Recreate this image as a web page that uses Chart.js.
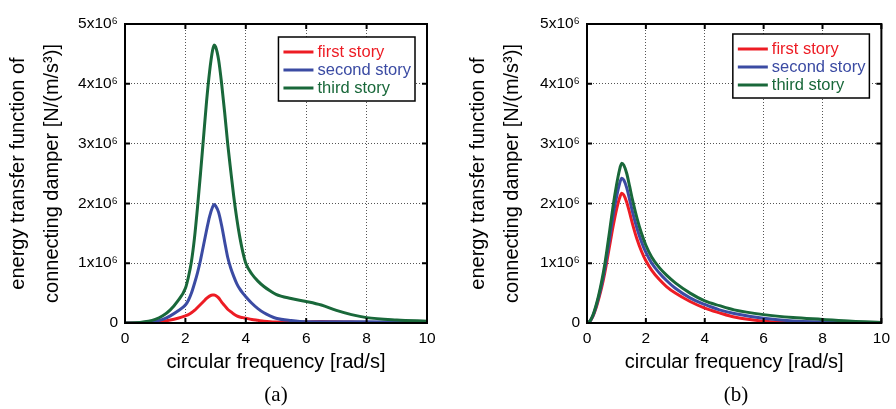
<!DOCTYPE html>
<html>
<head>
<meta charset="utf-8">
<script src="https://cdn.jsdelivr.net/npm/chart.js@4.4.0/dist/chart.umd.min.js"></script>
<style>
  body { margin: 0; background: #fff; width: 896px; height: 409px; overflow: hidden; position: relative; }
  .panel { position: absolute; top: 0; width: 448px; height: 409px; }
  .cap { position: absolute; top: 382px; font-family: "Liberation Serif", serif; font-size: 21px; transform: translateX(-50%); }
</style>
</head>
<body>
<div class="panel" style="left:0"><canvas id="chartA" width="448" height="409"></canvas></div>
<div class="panel" style="left:448px"><canvas id="chartB" width="448" height="409"></canvas></div>
<div class="cap" style="left:276px">(a)</div>
<div class="cap" style="left:736px">(b)</div>

<script>
// circular frequency [rad/s] and energy transfer values in units of 10^6 N/(m/s^3)

// panel (a)
const freqA   = [0, 0.5, 1, 1.25, 1.5, 1.75, 2, 2.1, 2.2, 2.3, 2.4, 2.5, 2.6, 2.7, 2.8, 2.9, 2.95, 3.0, 3.1, 3.2,
                 3.3, 3.4, 3.5, 3.6, 3.7, 3.8, 3.9, 4.0, 4.2, 4.4, 4.6, 4.8, 5.0, 5.5, 6.0, 6.5, 7.0, 7.5, 8.0, 9.0, 10];
const firstA  = [0, 0, 0.02, 0.03, 0.05, 0.08, 0.12, 0.14, 0.17, 0.21, 0.26, 0.31, 0.36, 0.41, 0.45, 0.47, 0.47, 0.46, 0.42, 0.35,
                 0.29, 0.23, 0.19, 0.15, 0.12, 0.1, 0.09, 0.08, 0.06, 0.045, 0.03, 0.02, 0.015, 0.01, 0.015, 0.025, 0.02, 0.015, 0.01, 0.005, 0];
const secondA = [0, 0.005, 0.03, 0.06, 0.12, 0.2, 0.3, 0.38, 0.5, 0.66, 0.84, 1.05, 1.3, 1.55, 1.78, 1.94, 1.98, 1.96, 1.85, 1.63,
                 1.36, 1.1, 0.92, 0.78, 0.66, 0.57, 0.5, 0.44, 0.33, 0.24, 0.17, 0.12, 0.08, 0.04, 0.02, 0.02, 0.02, 0.02, 0.02, 0.015, 0.01];
const thirdA  = [0, 0.01, 0.06, 0.12, 0.22, 0.37, 0.58, 0.77, 1.03, 1.42, 1.93, 2.5, 3.1, 3.7, 4.2, 4.56, 4.65, 4.62, 4.4, 4.0,
                 3.52, 3.0, 2.55, 2.12, 1.75, 1.44, 1.19, 1.0, 0.82, 0.7, 0.61, 0.54, 0.48, 0.41, 0.36, 0.3, 0.21, 0.14, 0.09, 0.05, 0.03];

// panel (b)
const freqB   = [0, 0.1, 0.2, 0.3, 0.4, 0.5, 0.6, 0.7, 0.8, 0.9, 1.0, 1.1, 1.18, 1.25, 1.35, 1.45, 1.55, 1.7, 1.85, 2.0,
                 2.2, 2.45, 2.7, 3.0, 3.5, 4, 4.5, 5, 6, 7, 8, 9, 10];
const firstB  = [0, 0.03, 0.11, 0.24, 0.41, 0.6, 0.83, 1.1, 1.38, 1.65, 1.89, 2.08, 2.17, 2.14, 2.02, 1.84, 1.65, 1.4, 1.2, 1.04,
                 0.88, 0.73, 0.61, 0.5, 0.36, 0.25, 0.17, 0.1, 0.03, 0.01, 0.005, 0, 0];
const secondB = [0, 0.03, 0.12, 0.26, 0.44, 0.65, 0.9, 1.2, 1.52, 1.84, 2.1, 2.32, 2.42, 2.39, 2.26, 2.06, 1.85, 1.58, 1.36, 1.18,
                 1.0, 0.84, 0.71, 0.58, 0.42, 0.31, 0.22, 0.16, 0.08, 0.035, 0.02, 0.01, 0.005];
const thirdB  = [0, 0.03, 0.13, 0.28, 0.47, 0.7, 0.97, 1.3, 1.65, 2.0, 2.3, 2.55, 2.67, 2.64, 2.5, 2.28, 2.05, 1.75, 1.5, 1.3,
                 1.1, 0.93, 0.8, 0.67, 0.5, 0.37, 0.29, 0.22, 0.14, 0.09, 0.06, 0.03, 0.01];

const seriesNames  = ['first story', 'second story', 'third story'];
const seriesColors = ['#ed1c24', '#3b4ba3', '#19683a'];
const xTicks = [0, 2, 4, 6, 8, 10];
const yTicks = [0, 1, 2, 3, 4, 5];
const yTickLabels = ['0', '1x10\u2076', '2x10\u2076', '3x10\u2076', '4x10\u2076', '5x10\u2076'];

const FONT = '"Liberation Sans", Arial, sans-serif';

function points(xs, ys) {
  return xs.map((x, i) => ({ x: x, y: ys[i] }));
}

// black box round the axes, with ticks pointing inward on all four sides
const boxPlugin = {
  id: 'box',
  afterDatasetsDraw(chart) {
    const { ctx, chartArea: a, scales: { x, y } } = chart;
    ctx.save();
    ctx.strokeStyle = '#000';
    ctx.lineWidth = 2;
    ctx.strokeRect(a.left, a.top, a.right - a.left, a.bottom - a.top);
    ctx.beginPath();
    xTicks.forEach(v => {
      const px = x.getPixelForValue(v);
      ctx.moveTo(px, a.bottom); ctx.lineTo(px, a.bottom - 5);
      ctx.moveTo(px, a.top); ctx.lineTo(px, a.top + 5);
    });
    yTicks.forEach(v => {
      const py = y.getPixelForValue(v);
      ctx.moveTo(a.left, py); ctx.lineTo(a.left + 5, py);
      ctx.moveTo(a.right, py); ctx.lineTo(a.right - 5, py);
    });
    ctx.stroke();
    ctx.restore();
  }
};

// boxed legend in the upper right, text coloured like the lines
const legendPlugin = {
  id: 'boxLegend',
  afterDraw(chart) {
    const { ctx, chartArea: a } = chart;
    const sets = chart.data.datasets;
    ctx.save();
    ctx.font = '16.5px ' + FONT;
    const textW = Math.max(...sets.map(d => ctx.measureText(d.label).width));
    const w = 39 + textW + 4;
    const h = 64;
    const left = a.right - 12 - w;
    const top = a.top + chart.options.legendTop;
    ctx.fillStyle = '#fff';
    ctx.fillRect(left, top, w, h);
    ctx.strokeStyle = '#000';
    ctx.lineWidth = 1.5;
    ctx.strokeRect(left, top, w, h);
    sets.forEach((d, i) => {
      const yy = top + 15 + i * 18;
      ctx.strokeStyle = d.borderColor;
      ctx.lineWidth = 3;
      ctx.beginPath();
      ctx.moveTo(left + 5, yy);
      ctx.lineTo(left + 35, yy);
      ctx.stroke();
      ctx.fillStyle = d.borderColor;
      ctx.textBaseline = 'middle';
      ctx.fillText(d.label, left + 39, yy);
    });
    ctx.restore();
  }
};

function makeChart(id, freq, series, axisWidth, rightPad, titlePad, legendTop) {
  const datasets = series.map((vals, i) => ({
    label: seriesNames[i],
    data: points(freq, vals),
    borderColor: seriesColors[i],
    backgroundColor: seriesColors[i],
    borderWidth: 3,
    pointRadius: 0,
    cubicInterpolationMode: 'monotone',
    order: 3 - i
  }));

  return new Chart(document.getElementById(id), {
    type: 'line',
    data: { datasets: datasets },
    options: {
      responsive: false,
      animation: false,
      legendTop: legendTop,
      layout: { padding: { left: 0, right: rightPad, top: 24, bottom: 34 } },
      plugins: { legend: { display: false }, tooltip: { enabled: false } },
      scales: {
        x: {
          type: 'linear',
          min: 0, max: 10,
          afterFit: s => { s.height = 52; },
          afterBuildTicks: s => { s.ticks = xTicks.map(v => ({ value: v })); },
          grid: { color: '#555', lineWidth: 1, drawTicks: false },
          border: { display: false, dash: [1, 2] },
          ticks: { color: '#000', font: { family: FONT, size: 15.5 }, padding: 6, maxRotation: 0, autoSkip: false },
          title: { display: true, text: 'circular frequency [rad/s]', color: '#000',
                   font: { family: FONT, size: 20 }, padding: { top: 0, bottom: 1 } }
        },
        y: {
          type: 'linear',
          min: 0, max: 5,
          afterFit: s => { s.width = axisWidth; },
          afterBuildTicks: s => { s.ticks = yTicks.map(v => ({ value: v })); },
          grid: { color: '#555', lineWidth: 1, drawTicks: false },
          border: { display: false, dash: [1, 2] },
          ticks: { color: '#000', font: { family: FONT, size: 15.5 }, padding: 7, autoSkip: false,
                   callback: (v, i) => yTickLabels[i] },
          title: { display: true, text: ['energy transfer function of', 'connecting damper [N/(m/s\u00b3)]'],
                   color: '#000', font: { family: FONT, size: 20, lineHeight: 1.7 },
                   padding: { top: titlePad, bottom: 0 } }
        }
      }
    },
    plugins: [boxPlugin, legendPlugin]
  });
}

makeChart('chartA', freqA, [firstA, secondA, thirdA], 125, 21, 1, 13);
makeChart('chartB', freqB, [firstB, secondB, thirdB], 139, 10, 13, 10);
</script>
</body>
</html>
